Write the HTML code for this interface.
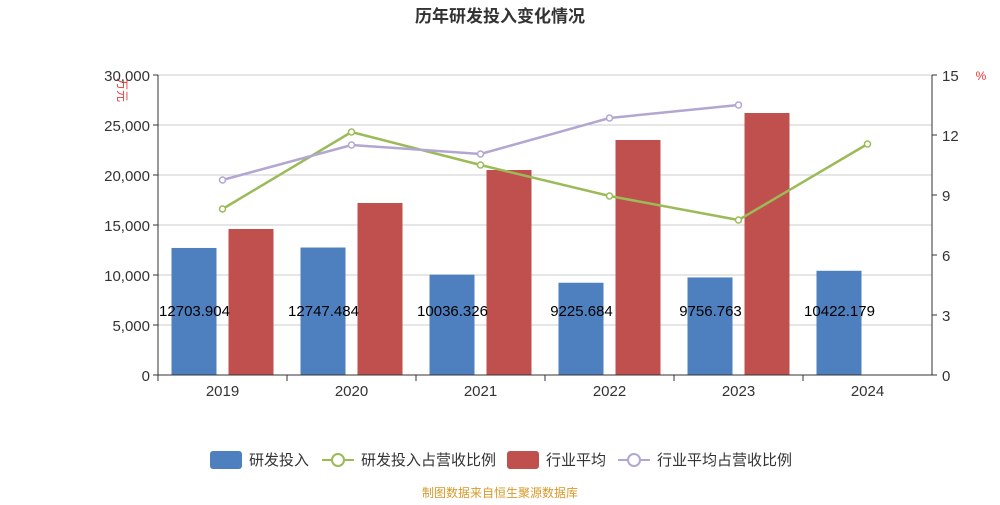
<!DOCTYPE html>
<html><head><meta charset="utf-8"><style>
body{margin:0;background:#fff;font-family:"Liberation Sans","Noto Sans CJK SC",sans-serif;}
svg text{font-family:"Liberation Sans","Noto Sans CJK SC",sans-serif;}
</style></head><body>
<svg width="1000" height="500" id="chart">
<text x="500" y="22" text-anchor="middle" font-size="17" font-weight="bold" fill="#333">历年研发投入变化情况</text>
<text transform="translate(118,90) rotate(90)" font-size="12" fill="#e33" text-anchor="middle">万元</text>
<text x="981" y="80" font-size="12" fill="#e33" text-anchor="middle">%</text>
<g id="grid"></g><g id="bars"></g><g id="lines"></g><g id="axes"></g>
<g font-size="15" fill="#333">
<g><rect x="210" y="451" width="32" height="18" rx="3" fill="#4e7fbf"/><text x="249" y="465">研发投入</text></g>
<g><line x1="322" y1="460" x2="354" y2="460" stroke="#9bbb59" stroke-width="2"/><circle cx="338" cy="460" r="6" fill="#fff" stroke="#9bbb59" stroke-width="2"/><text x="361" y="465">研发投入占营收比例</text></g>
<g><rect x="507" y="451" width="32" height="18" rx="3" fill="#c0504d"/><text x="546" y="465">行业平均</text></g>
<g><line x1="618" y1="460" x2="650" y2="460" stroke="#b3a6d0" stroke-width="2"/><circle cx="634" cy="460" r="6" fill="#fff" stroke="#b3a6d0" stroke-width="2"/><text x="657" y="465">行业平均占营收比例</text></g>
</g>
<text x="500" y="497" text-anchor="middle" font-size="12" fill="#d79a2b">制图数据来自恒生聚源数据库</text>
</svg>
<script>
const categories=["2019","2020","2021","2022","2023","2024"];
const rdValues=[12703.904,12747.484,10036.326,9225.684,9756.763,10422.179];
const industryValues=[14600,17200,20500,23500,26200,null];
const rdRatio=[8.3,12.15,10.5,8.95,7.75,11.55];
const industryRatio=[9.75,11.5,11.05,12.85,13.5,null];
const leftTicks=[0,5000,10000,15000,20000,25000,30000];
const rightTicks=[0,3,6,9,12,15];
const NS="http://www.w3.org/2000/svg";
const X0=158,X1=932,Y0=375,Y1=75;
const bw=(X1-X0)/categories.length;
const yL=v=>Y0-(v/30000)*(Y0-Y1);
const yR=v=>Y0-(v/15)*(Y0-Y1);
const xc=i=>X0+bw*(i+0.5);
function mk(tag,attrs,parent,txt){const e=document.createElementNS(NS,tag);for(const k in attrs)e.setAttribute(k,attrs[k]);if(txt!==undefined)e.textContent=txt;document.getElementById(parent).appendChild(e);return e;}
leftTicks.forEach(t=>{const y=yL(t);
 if(t>0){const g=mk('line',{x1:X0,x2:X1,y1:y,y2:y,stroke:'#ccc','stroke-width':1},'grid');}
 const l=mk('text',{x:X0-8,y:y+6,'text-anchor':'end','font-size':15,fill:'#333'},'axes',t.toLocaleString('en-US'));
 
 
 mk('line',{x1:X0-5,x2:X0,y1:y,y2:y,stroke:'#333'},'axes');});
rightTicks.forEach(t=>{const y=yR(t);
 const l=mk('text',{x:X1+10,y:y+6,'font-size':15,fill:'#333'},'axes',String(t));
 
 
 mk('line',{x1:X1,x2:X1+5,y1:y,y2:y,stroke:'#333'},'axes');});
mk('line',{x1:X0,x2:X0,y1:Y1,y2:Y0,stroke:'#333'},'axes');
mk('line',{x1:X1,x2:X1,y1:Y1,y2:Y0,stroke:'#333'},'axes');
mk('line',{x1:X0,x2:X1,y1:Y0,y2:Y0,stroke:'#333'},'axes');
categories.forEach((c,i)=>{
 mk('line',{x1:X0+bw*i,x2:X0+bw*i,y1:Y0,y2:Y0+6,stroke:'#333'},'axes');
 const l=mk('text',{x:xc(i),y:Y0+21,'text-anchor':'middle','font-size':15,fill:'#333'},'axes',c);
 
 
 const b=mk('rect',{x:xc(i)-51,y:yL(rdValues[i]),width:45,height:Y0-yL(rdValues[i]),fill:'#4e7fbf'},'bars');
 
 
 if(industryValues[i]!==null){const r=mk('rect',{x:xc(i)+6,y:yL(industryValues[i]),width:45,height:Y0-yL(industryValues[i]),fill:'#c0504d'},'bars');
 
 }
 const v=mk('text',{x:xc(i)-28,y:316,'text-anchor':'middle','font-size':15,fill:'#000'},'lines',String(rdValues[i]));
 
 
});
function series(vals,color,name){
 const pts=[];vals.forEach((v,i)=>{if(v!==null)pts.push([xc(i),yR(v)]);});
 const p=mk('polyline',{points:pts.map(p=>p.join(',')).join(' '),fill:'none',stroke:color,'stroke-width':2.5},'lines');
 
 
 pts.forEach(q=>{const c=mk('circle',{cx:q[0],cy:q[1],r:3,fill:'#fff',stroke:color,'stroke-width':1.5},'lines');
 
 });
}
series(rdRatio,'#9bbb59','rd-ratio');
series(industryRatio,'#b3a6d0','industry-ratio');
</script>
</body></html>
